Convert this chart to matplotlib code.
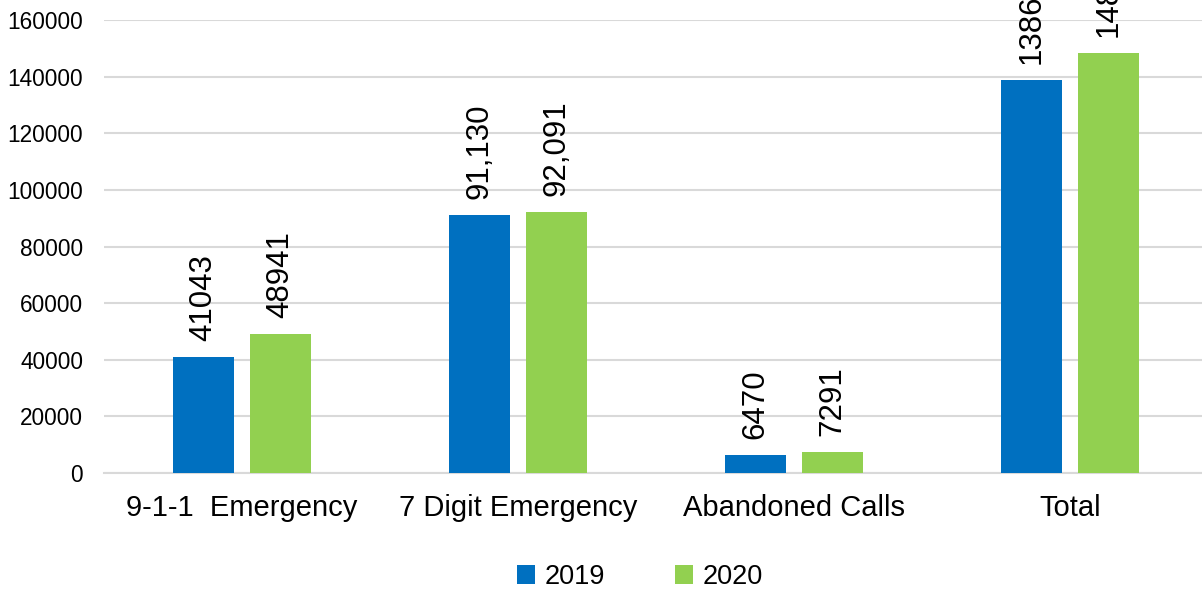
import numpy as np
import matplotlib.pyplot as plt

plt.rcParams['font.family'] = ['Liberation Sans', 'DejaVu Sans']

categories = ["9-1-1  Emergency", "7 Digit Emergency", "Abandoned Calls", "Total"]
calls_2019 = [41043, 91130, 6470, 138643]
calls_2020 = [48941, 92091, 7291, 148323]
labels_2019 = ["41043", "91,130", "6470", "138643"]
labels_2020 = ["48941", "92,091", "7291", "148323"]
yticks = [0, 20000, 40000, 60000, 80000, 100000, 120000, 140000, 160000]

blue = "#0070C0"
green = "#92D050"
grid = "#D9D9D9"

fig = plt.figure(figsize=(12.02, 5.9), dpi=100)
ax = fig.add_axes([0.0865, 0.1983, 0.9185, 0.7678])

x = np.arange(len(categories))
w = 0.22
b1 = ax.bar(x - 0.14, calls_2019, w, color=blue, label="2019", zorder=3)
b2 = ax.bar(x + 0.14, calls_2020, w, color=green, label="2020", zorder=3)

# labels sit above bars, rotated; the Total ones run off the top like the original
for bars, labs in [(b1, labels_2019), (b2, labels_2020)]:
    for r, lab in zip(bars, labs):
        ax.annotate(lab, (r.get_x() + r.get_width() / 2, r.get_height()),
                    xytext=(0, 11.5), textcoords="offset points",
                    rotation=90, ha="center", va="bottom", fontsize=22.5,
                    color="#000000")

ax.set_xlim(-0.5, 3.5)
ax.set_ylim(0, 160000)
ax.set_yticks(yticks)
ax.set_yticklabels([str(t) for t in yticks], fontsize=16.3)
ax.set_xticks(x)
ax.set_xticklabels(categories, fontsize=21)
ax.tick_params(axis="y", length=0, pad=15)
ax.tick_params(axis="x", length=0, pad=15)
ax.yaxis.grid(True, color=grid, linewidth=1.5, zorder=0)
ax.set_axisbelow(True)
for s in ["top", "right", "left"]:
    ax.spines[s].set_visible(False)
ax.spines["bottom"].set_color(grid)
ax.spines["bottom"].set_linewidth(1.5)

fig.legend(handles=[b1, b2], loc="center", bbox_to_anchor=(640 / 1202, 1 - 577 / 590),
           ncol=2, frameon=False, fontsize=19.5, handlelength=0.65, handleheight=0.65,
           handletextpad=0.35, columnspacing=2.6)

fig.savefig("out.png", dpi=100)
